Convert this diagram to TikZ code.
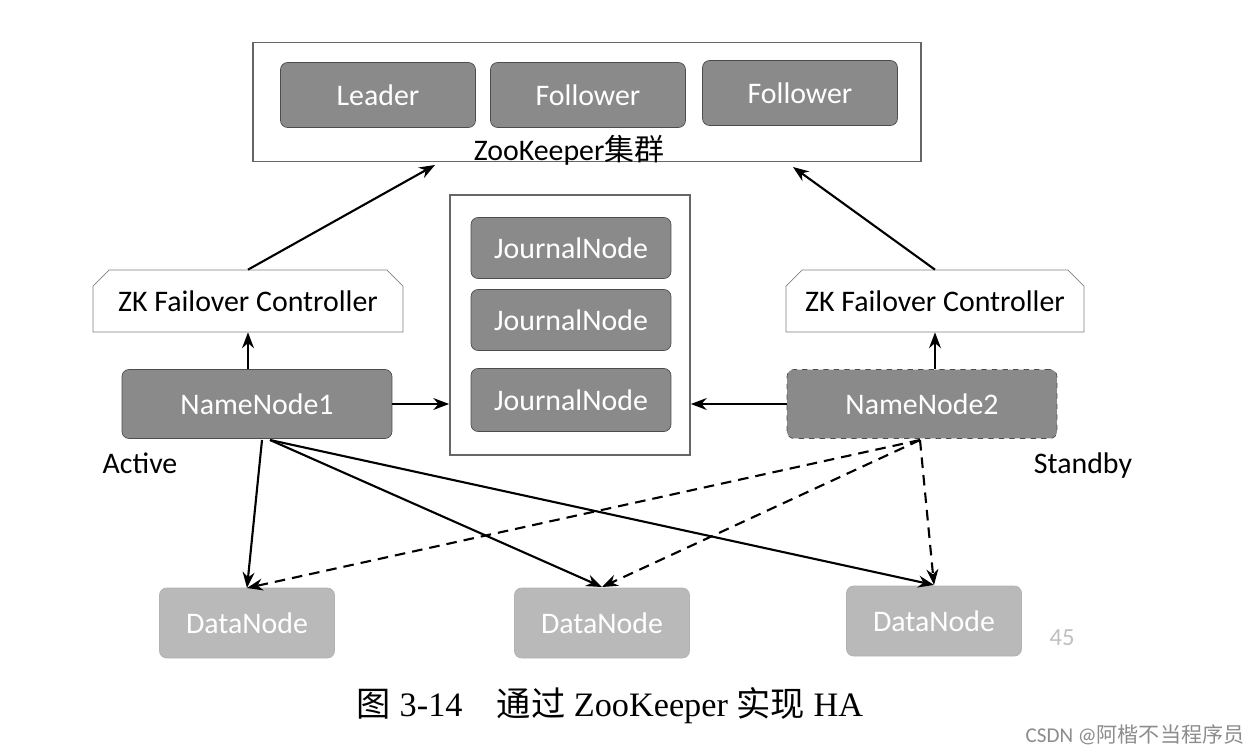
\documentclass[tikz,border=0pt]{standalone}
\usepackage{fontspec}
\setmainfont{Carlito}
\newfontfamily\cjk{Noto Sans CJK SC}
\newfontfamily\capfont{Liberation Serif}
\usetikzlibrary{shapes.misc,arrows.meta}
\definecolor{darkbox}{HTML}{8A8A8A}
\definecolor{lightbox}{HTML}{B9B9B9}
\begin{document}
\begin{tikzpicture}[x=0.02cm,y=-0.02cm,
    dark/.style={rectangle, rounded corners=4pt, fill=darkbox, draw=black!70, text=white, font=\fontsize{17}{17}\selectfont, minimum width=3.9cm, minimum height=1.3cm},
    light/.style={rectangle, rounded corners=4pt, fill=lightbox, draw=black!30, text=white, font=\fontsize{17}{17}\selectfont, minimum width=3.5cm, minimum height=1.4cm},
    frame/.style={rectangle, draw=black!60, line width=1pt},
    zkfc/.style={chamfered rectangle, chamfered rectangle corners={north west,north east}, chamfered rectangle xsep=6pt, draw=black!50, font=\fontsize{17}{17}\selectfont, minimum width=6.2cm, minimum height=1.24cm},
    arr/.style={-{Stealth[length=9pt]}, line width=1.2pt},
    darr/.style={arr, dash pattern=on 6pt off 4pt}]
  \useasboundingbox (0,0) rectangle (1258,754);
  % ZooKeeper cluster
  \node (zk) [frame, minimum width=13.36cm, minimum height=2.38cm] at (587,102) {};
  \node (leader) [dark] at (378,95) {Leader};
  \node (fol1) [dark] at (588,95) {Follower};
  \node (fol2) [dark] at (800,93) {Follower};
  \node (zklabel) at (569,150) {\fontsize{17}{17}\selectfont ZooKeeper{\cjk 集群}};
  % JournalNodes
  \node (jn) [frame, minimum width=4.8cm, minimum height=5.2cm] at (570,325) {};
  \node (jn1) [dark, minimum width=4cm, minimum height=1.22cm] at (571,248) {JournalNode};
  \node (jn2) [dark, minimum width=4cm, minimum height=1.22cm] at (571,320) {JournalNode};
  \node (jn3) [dark, minimum width=4cm, minimum height=1.26cm] at (571,400) {JournalNode};
  % failover controllers and namenodes
  \node (zkfc1) [zkfc] at (248,301) {ZK Failover Controller};
  \node (zkfc2) [zkfc, minimum width=5.96cm] at (935,301) {ZK Failover Controller};
  \node (nn1) [dark, minimum width=5.4cm, minimum height=1.38cm] at (257,404) {NameNode1};
  \node (nn2) [dark, dashed, minimum width=5.4cm, minimum height=1.38cm] at (922,404) {NameNode2};
  \node (active) at (140,463) {\fontsize{17}{17}\selectfont Active};
  \node (standby) at (1083,466) {\fontsize{17}{17}\selectfont Standby};
  % datanodes
  \node (dn1) [light] at (247,623) {DataNode};
  \node (dn2) [light] at (602,623) {DataNode};
  \node (dn3) [light] at (934,621) {DataNode};
  \node (num) [text=black!25, font=\fontsize{14}{14}\selectfont] at (1062,638) {45};
  % connectors
  \coordinate (zkin1) at (435,165);
  \coordinate (zkin2) at (793,167);
  \draw [arr] (zkfc1.north) -- (zkin1);
  \draw [arr] (zkfc2.north) -- (zkin2);
  \draw [arr] (nn1.north -| zkfc1) -- (zkfc1.south);
  \draw [arr] (nn2.north -| zkfc2) -- (zkfc2.south);
  \draw [arr] (nn1.east) -- (jn.west |- nn1.east);
  \draw [arr] (nn2.west) -- (jn.east |- nn2.west);
  \coordinate (nn1out) at (262,440);
  \coordinate (nn1out2) at (270,440);
  \coordinate (nn2out) at (920,440);
  \coordinate (dn1in) at (247,588);
  \coordinate (dn2in) at (602,587);
  \coordinate (dn3in) at (934,585);
  \draw [arr] (nn1out) -- (dn1in);
  \draw [arr] (nn1out2) -- (dn2in);
  \draw [arr] (nn1out2) -- (dn3in);
  \draw [darr] (nn2out) -- (dn1in);
  \draw [darr] (nn2out) -- (dn2in);
  \draw [darr] (nn2out) -- (dn3in);
  % caption
  \node (caption) at (610,706) {\capfont\fontsize{19.5}{19.5}\selectfont{\cjk 图} 3-14\quad{\cjk 通过} ZooKeeper {\cjk 实现} HA};
  \node (mark) [text=black!45] at (1135,735) {\fontsize{12}{12}\selectfont CSDN @{\cjk 阿楷不当程序员}};
\end{tikzpicture}
\end{document}
